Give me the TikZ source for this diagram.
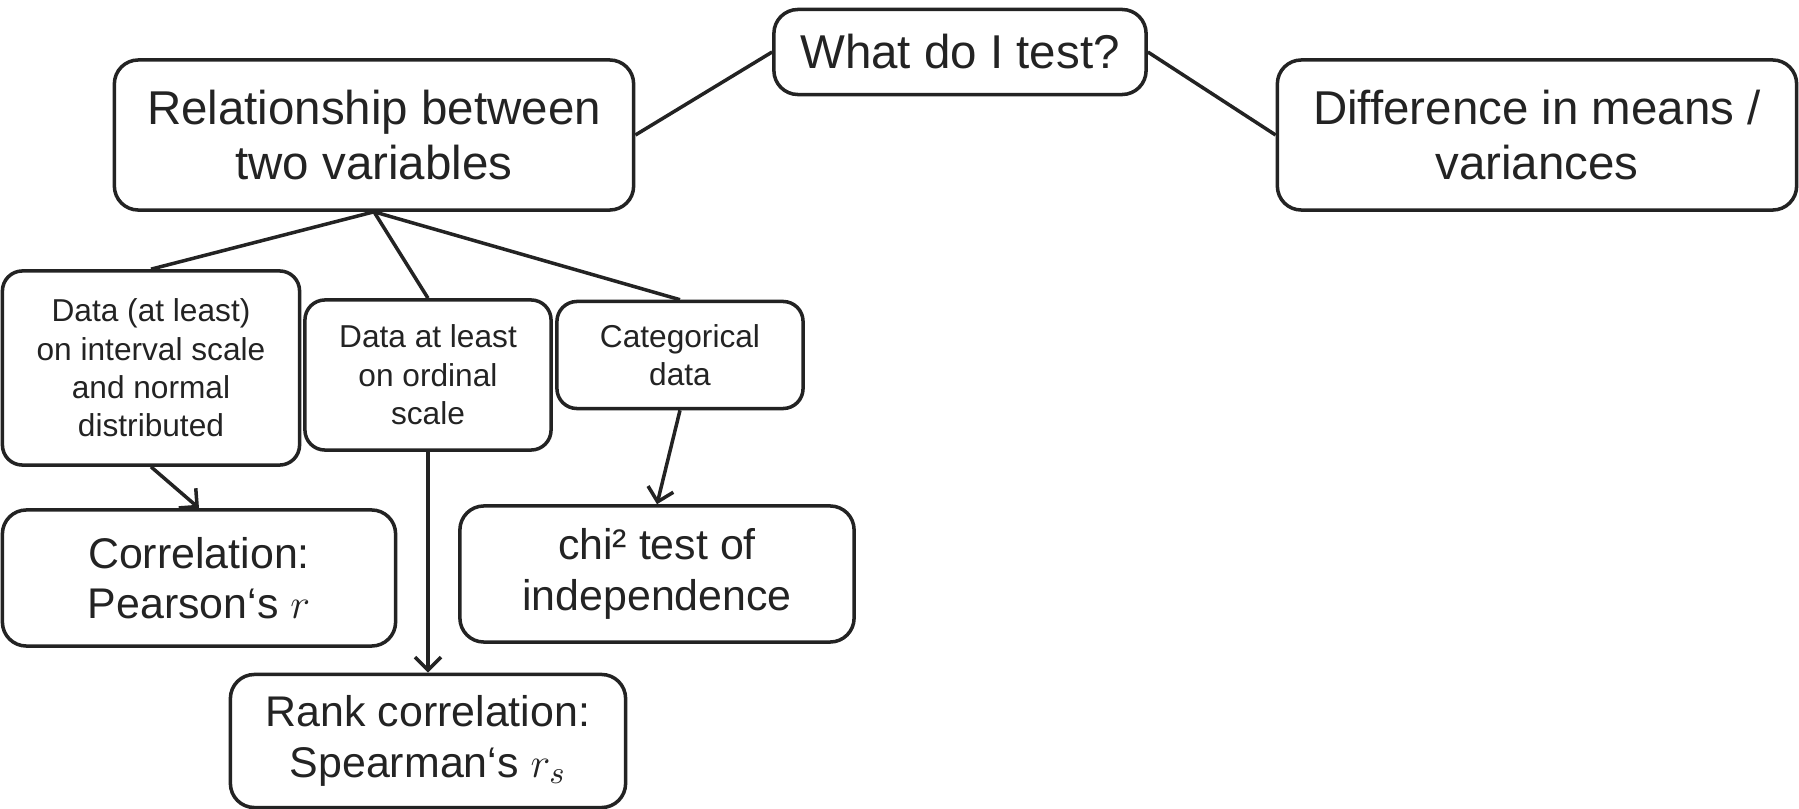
\documentclass[tikz,border=0pt]{standalone}
\usepackage{fontspec}
\setmainfont{Liberation Sans}
\usetikzlibrary{arrows.meta}
\definecolor{ink}{HTML}{232323}

\begin{document}
\begin{tikzpicture}[x=0.01cm,y=-0.01cm,line width=1pt,draw=ink,text=ink,
  >={Straight Barb[length=0.13cm,width=0.26cm]},
  main node/.style={draw,rounded corners=0.24cm,align=center,inner sep=0pt,
    font=\fontsize{13.5}{15.8}\selectfont},
  result node/.style={main node,font=\fontsize{12.2}{14.4}\selectfont},
  small node/.style={main node,rounded corners=0.2cm,font=\fontsize{9}{10.9}\selectfont}]

 \useasboundingbox (0,0) rectangle (1799,809);

 \node[main node,minimum width=3.72cm,minimum height=0.85cm] (test) at (960,52) {What do I test?};
 \node[main node,minimum width=5.19cm,minimum height=1.5cm] (rel) at (374,135) {Relationship between\\two variables};
 \node[main node,minimum width=5.19cm,minimum height=1.5cm] (diff) at (1537,135) {Difference in means /\\variances};

 \node[small node,minimum width=2.97cm,minimum height=1.94cm] (norm) at (151,368) {Data (at least)\\on interval scale\\and normal\\distributed};
 \node[small node,minimum width=2.46cm,minimum height=1.5cm] (ord) at (428,375) {Data at least\\on ordinal\\scale};
 \node[small node,minimum width=2.46cm,minimum height=1.07cm] (cat) at (680,355) {Categorical\\data};

 \node[result node,minimum width=3.93cm,minimum height=1.36cm] (pear) at (199,578) {Correlation:\\Pearson‘s $r$};
 \node[result node,minimum width=3.94cm,minimum height=1.36cm] (chi) at (657,574) {chi² test of\\independence};
 \node[result node,minimum width=3.95cm,minimum height=1.33cm] (rank) at (428,741) {Rank correlation:\\Spearman‘s $r_s$};

 \path
    (test.west)	edge (rel.east)
    (test.east)	edge (diff.west)
    (rel.south)	edge (norm.north)
    (rel.south)	edge (ord.north)
    (rel.south)	edge (cat.north);

 \path[->]
    (norm.south)	edge (pear.north)
    (ord.south)	edge (rank.north)
    (cat.south)	edge (chi.north);

\end{tikzpicture}
\end{document}
